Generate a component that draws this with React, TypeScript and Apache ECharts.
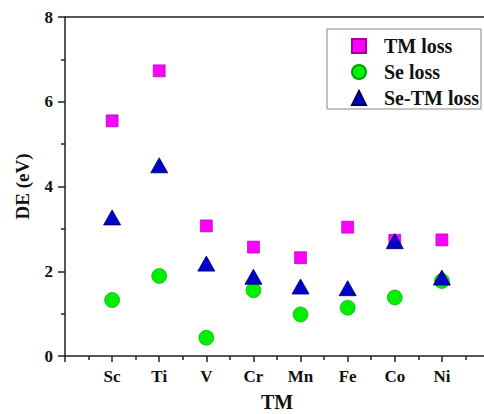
import React, { useEffect, useRef } from "react";
import * as echarts from "echarts";

const categories = ["Sc", "Ti", "V", "Cr", "Mn", "Fe", "Co", "Ni"];
const tmLoss = [5.55, 6.73, 3.07, 2.57, 2.32, 3.04, 2.73, 2.74];
const seLoss = [1.32, 1.89, 0.43, 1.55, 0.98, 1.14, 1.38, 1.77];
const seTmLoss = [3.27, 4.5, 2.18, 1.87, 1.64, 1.6, 2.71, 1.85];
const yTicks = [0, 2, 4, 6, 8];

const FONT = "'Liberation Serif', 'Times New Roman', serif";

const toPoints = (vals: number[]) => vals.map((v, i) => [i + 1, v]);

export default function App() {
  const ref = useRef<HTMLDivElement>(null);
  useEffect(() => {
    if (!ref.current) return;
    const chart = echarts.init(ref.current, null, { renderer: "svg" });
    const axisLine = { show: true, lineStyle: { color: "#222", width: 1.5 } };
    chart.setOption({
      animation: false,
      backgroundColor: "#fff",
      grid: { left: 65, top: 17, right: -5, bottom: 58, containLabel: false, outerBoundsMode: "none" },
      legend: {
        orient: "vertical",
        left: 327,
        top: 29,
        padding: [7, 2, 1, 24],
        itemGap: 6,
        itemWidth: 14,
        itemHeight: 14,
        borderColor: "#888",
        borderWidth: 1,
        textStyle: {
          fontFamily: FONT,
          fontWeight: "bold",
          fontSize: 20,
          color: "#111",
          lineHeight: 20,
          padding: [0, 0, 0, 13],
        },
        data: ["TM loss", "Se loss", "Se-TM loss"],
      },
      xAxis: [
        {
          type: "value",
          min: 0,
          max: 9,
          interval: 1,
          name: "TM",
          nameLocation: "middle",
          nameGap: 36,
          nameTextStyle: { fontFamily: FONT, fontWeight: "bold", fontSize: 20, color: "#111" },
          axisLine,
          axisTick: { show: true, inside: false, length: 6, lineStyle: { color: "#222", width: 1.5 } },
          minorTick: { show: true, splitNumber: 2, length: 4, lineStyle: { color: "#222", width: 1.5 } },
          axisLabel: {
            margin: 12,
            fontFamily: FONT,
            fontWeight: "bold",
            fontSize: 17,
            color: "#111",
            formatter: (v: number) =>
              Number.isInteger(v) && v >= 1 && v <= categories.length ? categories[v - 1] : "",
          },
          splitLine: { show: false },
        },
        {
          type: "value",
          position: "top",
          min: 0,
          max: 9,
          interval: 1,
          axisLine,
          axisTick: { show: false },
          axisLabel: { show: false },
          splitLine: { show: false },
        },
      ],
      yAxis: {
        type: "value",
        min: yTicks[0],
        max: yTicks[yTicks.length - 1],
        interval: 2,
        name: "DE (eV)",
        nameLocation: "middle",
        nameGap: 33,
        nameTextStyle: { fontFamily: FONT, fontWeight: "bold", fontSize: 19, color: "#111" },
        axisLine,
        axisTick: { show: true, inside: false, length: 7, lineStyle: { color: "#222", width: 1.5 } },
        minorTick: { show: true, splitNumber: 2, length: 4, lineStyle: { color: "#222", width: 1.5 } },
        axisLabel: { margin: 12, fontFamily: FONT, fontWeight: "bold", fontSize: 17, color: "#111" },
        splitLine: { show: false },
      },
      series: [
        {
          name: "TM loss",
          type: "scatter",
          symbol: "rect",
          symbolSize: 12,
          itemStyle: { color: "#ff00ff", borderColor: "#a000a0", borderWidth: 0.6, opacity: 1 },
          data: toPoints(tmLoss),
        },
        {
          name: "Se loss",
          type: "scatter",
          symbol: "circle",
          symbolSize: 15,
          itemStyle: { color: "#00ee00", borderColor: "#00a000", borderWidth: 0.6, opacity: 1 },
          data: toPoints(seLoss),
        },
        {
          name: "Se-TM loss",
          type: "scatter",
          symbol: "triangle",
          symbolSize: [17, 15],
          itemStyle: { color: "#0000cc", borderColor: "#000055", borderWidth: 0.8, opacity: 1 },
          data: toPoints(seTmLoss),
        },
      ],
    });
    return () => chart.dispose();
  }, []);
  return <div ref={ref} style={{ width: 484, height: 414, position: "absolute", left: 0, top: 0 }} />;
}
